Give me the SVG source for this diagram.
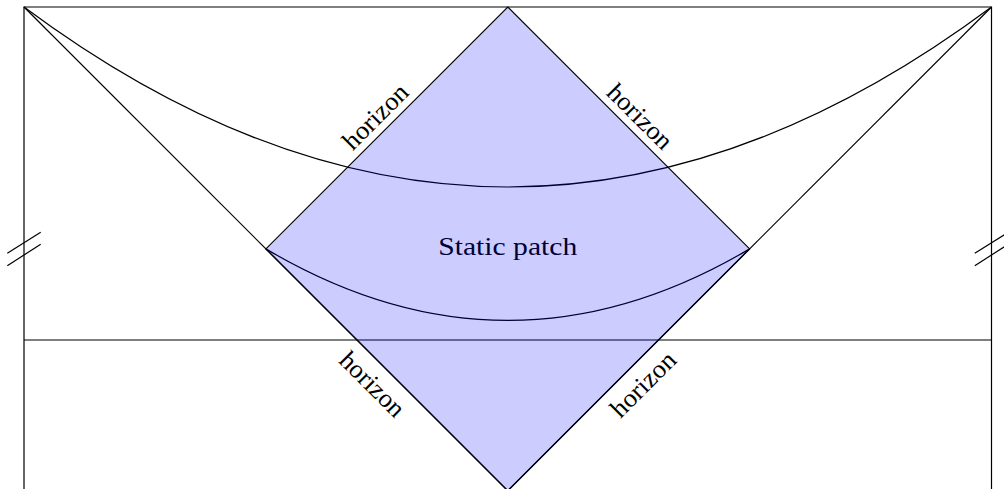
<svg xmlns="http://www.w3.org/2000/svg" width="1004" height="489" viewBox="0 0 1004 489">
<style>
.ln{fill:none;stroke:#000;stroke-width:1.2}
.lbl{font-family:"Liberation Serif","DejaVu Serif",serif;font-size:26px;text-anchor:middle;fill:#000}
</style>
<rect x="0" y="0" width="1004" height="489" fill="#fff"/>
<g id="connectors">
<path class="ln" d="M24,489 L24,7 L991.5,7 L991.5,489"/>
<line class="ln" x1="24" y1="340" x2="991.5" y2="340"/>
<line class="ln" x1="24" y1="7" x2="507.75" y2="490.75"/>
<line class="ln" x1="991.5" y1="7" x2="507.75" y2="490.75"/>
<path class="ln" d="M24,7 Q507.75,367 991.5,7"/>
<path class="ln" d="M265.875,248.875 Q507.75,392 749.625,248.875"/>
<line class="ln" x1="7.3" y1="253.3" x2="40.7" y2="232.3"/>
<line class="ln" x1="7.3" y1="265.7" x2="40.7" y2="244.3"/>
<line class="ln" x1="974.8" y1="253.3" x2="1008.2" y2="232.3"/>
<line class="ln" x1="974.8" y1="265.7" x2="1008.2" y2="244.3"/>
</g>
<g id="static-patch">
<text class="lbl" x="507.75" y="255" textLength="139" lengthAdjust="spacingAndGlyphs">Static patch</text>
<polygon points="507.75,7 749.625,248.875 507.75,490.75 265.875,248.875" fill="#0000ff" fill-opacity="0.2" stroke="#000" stroke-width="1.2"/>
</g>
<g id="horizon-ul" transform="translate(386.8,127.9) rotate(-45)">
<text class="lbl" x="0" y="-7.5" textLength="81" lengthAdjust="spacingAndGlyphs">horizon</text>
</g>
<g id="horizon-ur" transform="translate(628.7,127.9) rotate(45)">
<text class="lbl" x="0" y="-7.5" textLength="81" lengthAdjust="spacingAndGlyphs">horizon</text>
</g>
<g id="horizon-ll" transform="translate(386.8,369.8) rotate(45)">
<text class="lbl" x="0" y="29" textLength="81" lengthAdjust="spacingAndGlyphs">horizon</text>
</g>
<g id="horizon-lr" transform="translate(628.7,369.8) rotate(-45)">
<text class="lbl" x="0" y="29" textLength="81" lengthAdjust="spacingAndGlyphs">horizon</text>
</g>
</svg>
